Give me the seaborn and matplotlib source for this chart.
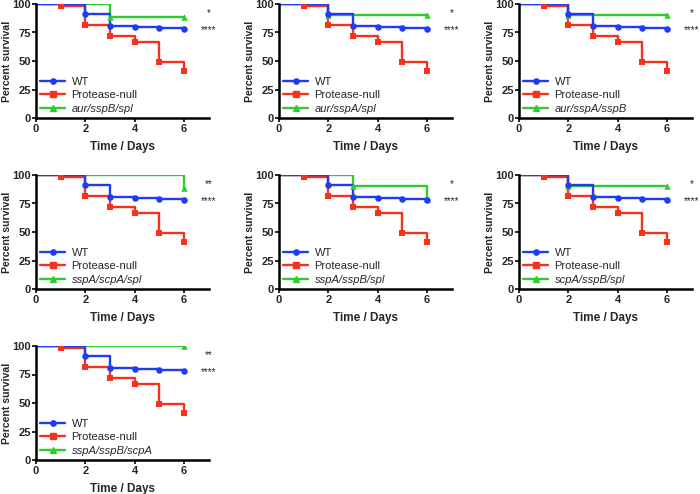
import numpy as np
import pandas as pd
import matplotlib
matplotlib.use('Agg')
import matplotlib.pyplot as plt
from matplotlib.lines import Line2D
import seaborn as sns

# survival data (percent survival per day)
days = [0, 1, 2, 3, 4, 5, 6]
wt = [100, 100, 91, 81, 80, 79, 78]
wt_marks = [2, 3, 4, 5, 6]
protease_null = [100, 98, 82, 72, 67, 49, 41]
protease_marks = [1, 2, 3, 4, 5, 6]

mutant_labels = ['aur/sspB/spl', 'aur/sspA/spl', 'aur/sspA/sspB',
                 'sspA/scpA/spl', 'sspA/sspB/spl', 'scpA/sspB/spl',
                 'sspA/sspB/scpA']
mutant_values = [
    [100, 100, 100, 89, 89, 89, 89],
    [100, 100, 90, 90, 90, 90, 90],
    [100, 100, 90, 90, 90, 90, 90],
    [100, 100, 100, 100, 100, 100, 89],
    [100, 100, 100, 90, 90, 90, 79],
    [100, 100, 90, 90, 90, 90, 90],
    [100, 100, 100, 100, 100, 100, 100],
]
mutant_marks = [[3, 6], [2, 6], [2, 6], [6], [3, 6], [2, 6], [6]]
stars_top = ['*', '*', '*', '**', '*', '*', '**']
stars_bottom = ['****'] * 7

sns.set_style('ticks')
plt.rcParams['font.family'] = ['Liberation Sans', 'DejaVu Sans']

blue = '#1f3cf5'
red = '#f5321e'
green = '#2fcc2f'

fig = plt.figure(figsize=(7, 4.94), dpi=100)
col_left = [36, 279, 519]
row_top = [4, 175, 346]
w_px, h_px = 172.7, 114

for i, label in enumerate(mutant_labels):
    r, c = divmod(i, 3)
    ax = fig.add_axes([col_left[c] / 700, 1 - (row_top[r] + h_px) / 494,
                       w_px / 700, h_px / 494])
    series = [(label, mutant_values[i], mutant_marks[i], green, '^'),
              ('Protease-null', protease_null, protease_marks, red, 's'),
              ('WT', wt, wt_marks, blue, 'o')]
    for name, vals, marks, col, mk in series:
        df = pd.DataFrame({'day': days, 'surv': vals})
        sns.lineplot(data=df, x='day', y='surv', ax=ax, color=col,
                     drawstyle='steps-post', linewidth=1.7, legend=False)
        md = df[df['day'].isin(marks)]
        sns.scatterplot(data=md, x='day', y='surv', ax=ax, color=col,
                        marker=mk, s=22, linewidth=0, legend=False, zorder=5)

    ax.set_xlim(0, 7)
    ax.set_ylim(0, 100)
    ax.set_xticks([0, 2, 4, 6])
    ax.set_yticks([0, 25, 50, 75, 100])
    for s in ['left', 'bottom']:
        ax.spines[s].set_linewidth(1.8)
        ax.spines[s].set_color('black')
    sns.despine(ax=ax)
    ax.tick_params(length=3, width=1.4, labelsize=8, pad=1)
    ax.tick_params(axis='y', pad=0.5)
    for t in ax.get_xticklabels() + ax.get_yticklabels():
        t.set_fontweight('bold')
    ax.set_xlabel('Time / Days', fontsize=8.5, fontweight='bold', labelpad=5)
    ax.set_ylabel('Percent survival', fontsize=7.6, fontweight='bold', labelpad=0.5)
    ax.margins(0)

    ax.text(7.0, 92, stars_top[i], ha='center', va='center', fontsize=7, clip_on=False)
    ax.text(7.0, 77, stars_bottom[i], ha='center', va='center', fontsize=7, clip_on=False)

    handles = [Line2D([], [], color=blue, marker='o', markersize=3.8, lw=1.7),
               Line2D([], [], color=red, marker='s', markersize=3.8, lw=1.7),
               Line2D([], [], color=green, marker='^', markersize=3.8, lw=1.7)]
    leg = ax.legend(handles, ['WT', 'Protease-null', label], loc='lower left',
                    frameon=False, fontsize=8, handlelength=2.2, handletextpad=0.6,
                    labelspacing=0.3, borderaxespad=0.3, borderpad=0.1)
    leg.get_texts()[2].set_style('italic')

fig.savefig('out.png', dpi=100)
